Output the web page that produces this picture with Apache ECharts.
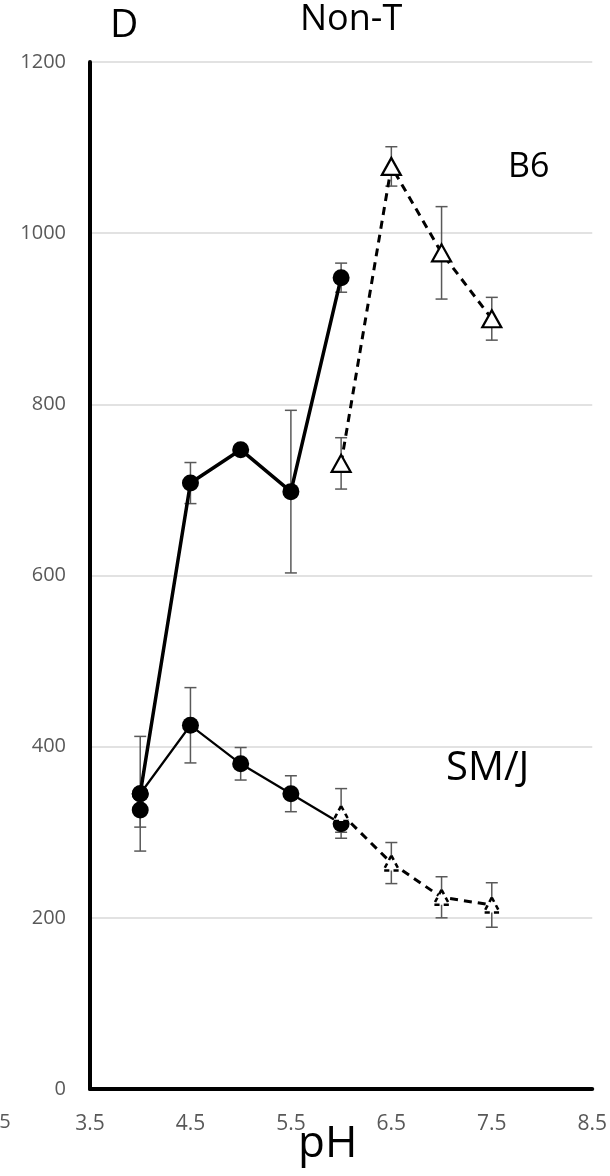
<!DOCTYPE html>
<html>
<head>
<meta charset="utf-8">
<script src="https://cdn.jsdelivr.net/npm/echarts@6/dist/echarts.min.js"></script>
<style>
  html, body { margin: 0; padding: 0; background: #fff; }
  #chart { width: 610px; height: 1176px; }
</style>
</head>
<body>
<div id="chart"></div>
<script>
// pH values
const phSolid = [4, 4.5, 5, 5.5, 6];
const phDashed = [6, 6.5, 7, 7.5];

// B6
const b6Solid = [345, 708, 747, 698, 948];
const b6SolidErr = [67, 24, 0, 95, 17];
const b6Dashed = [731, 1078, 977, 900];
const b6DashedErr = [30, 23, 54, 25];

// SM/J
const smjSolid = [345, 425, 380, 345, 310];
const smjSolidErr = [0, 44, 19, 21, 10];
const smjDashed = [322, 264, 224, 215];
const smjDashedErr = [29, 24, 24, 26];

// lone point at pH 4
const extraPh = [4];
const extraVal = [326];
const extraErr = [20];

const xTicks = [3.5, 4.5, 5.5, 6.5, 7.5, 8.5];

const pairs = (xs, ys) => xs.map((x, i) => [x, ys[i]]);
const errRows = (xs, ys, es) => xs.map((x, i) => [x, ys[i] - es[i], ys[i] + es[i]]).filter(r => r[2] > r[1]);

const errData = [].concat(
  errRows(phSolid, b6Solid, b6SolidErr),
  errRows(phDashed, b6Dashed, b6DashedErr),
  errRows(phSolid, smjSolid, smjSolidErr),
  errRows(phDashed, smjDashed, smjDashedErr),
  errRows(extraPh, extraVal, extraErr)
);

const chart = echarts.init(document.getElementById("chart"));
const font = "'Open Sans', 'Liberation Sans', sans-serif";
const grey = "#595959";

function renderErr(params, api) {
  const x = api.value(0);
  const lo = api.coord([x, api.value(1)]);
  const hi = api.coord([x, api.value(2)]);
  const w = 6;
  const st = { stroke: grey, lineWidth: 1.5 };
  return {
    type: "group",
    children: [
      { type: "line", shape: { x1: lo[0], y1: lo[1], x2: hi[0], y2: hi[1] }, style: st },
      { type: "line", shape: { x1: lo[0] - w, y1: lo[1], x2: lo[0] + w, y2: lo[1] }, style: st },
      { type: "line", shape: { x1: hi[0] - w, y1: hi[1], x2: hi[0] + w, y2: hi[1] }, style: st }
    ]
  };
}

const option = {
  animation: false,
  textStyle: { fontFamily: font },
  grid: { left: 90, right: 15, top: 62, bottom: 87 },
  xAxis: {
    type: "value",
    min: 3.5, max: 8.5, interval: 1,
    axisLine: { lineStyle: { color: "#000", width: 4 } },
    axisTick: { show: false },
    splitLine: { show: false },
    axisLabel: { color: grey, fontSize: 21, margin: 25, fontFamily: font,
      formatter: v => xTicks.includes(v) ? v.toFixed(1) : "" }
  },
  yAxis: {
    type: "value",
    min: 0, max: 1200, interval: 200,
    axisLine: { show: true, lineStyle: { color: "#000", width: 4 } },
    axisTick: { show: false },
    splitLine: { lineStyle: { color: "#d9d9d9", width: 1.5 } },
    axisLabel: { color: grey, fontSize: 20, margin: 24, fontFamily: font,
      formatter: v => String(v) }
  },
  series: [
    { type: "custom", renderItem: renderErr, data: errData, z: 1, silent: true },
    {
      type: "line", data: pairs(phSolid, b6Solid), z: 3,
      symbol: "circle", symbolSize: 17,
      lineStyle: { color: "#000", width: 3.5 },
      itemStyle: { color: "#000" }
    },
    {
      type: "line", data: pairs(phSolid, smjSolid), z: 3,
      symbol: "circle", symbolSize: 17,
      lineStyle: { color: "#000", width: 2.2 },
      itemStyle: { color: "#000" }
    },
    {
      type: "scatter", data: pairs(extraPh, extraVal), z: 3,
      symbol: "circle", symbolSize: 17, itemStyle: { color: "#000", opacity: 1 }
    },
    {
      type: "line", data: pairs(phDashed, b6Dashed), z: 4,
      symbol: "triangle", symbolSize: [19, 17],
      lineStyle: { color: "#000", width: 3, type: [8, 6] },
      itemStyle: { color: "#fff", borderColor: "#000", borderWidth: 2.2 }
    },
    {
      type: "line", data: pairs(phDashed, smjDashed), z: 4,
      symbol: "triangle", symbolSize: [16, 15],
      lineStyle: { color: "#000", width: 3, type: [8, 6] },
      itemStyle: { color: "#fff", borderColor: "#000", borderWidth: 2.5, borderType: [5, 4] }
    }
  ],
  graphic: [
    { type: "text", left: 110, top: 6, style: { text: "D", font: "39px " + font, fill: "#000" } },
    { type: "text", left: 300, top: 2, style: { text: "Non-T", font: "36px " + font, fill: "#000" } },
    { type: "text", left: 508, top: 150, style: { text: "B6", font: "34px " + font, fill: "#000" } },
    { type: "text", left: 446, top: 749, style: { text: "SM/J", font: "40px " + font, fill: "#000" } },
    { type: "text", left: 298, top: 1122, style: { text: "pH", font: "44px " + font, fill: "#000" } },
    { type: "text", left: -6, top: 1112, style: { text: ".5", font: "20px " + font, fill: grey } }
  ]
};

chart.setOption(option);
</script>
</body>
</html>
